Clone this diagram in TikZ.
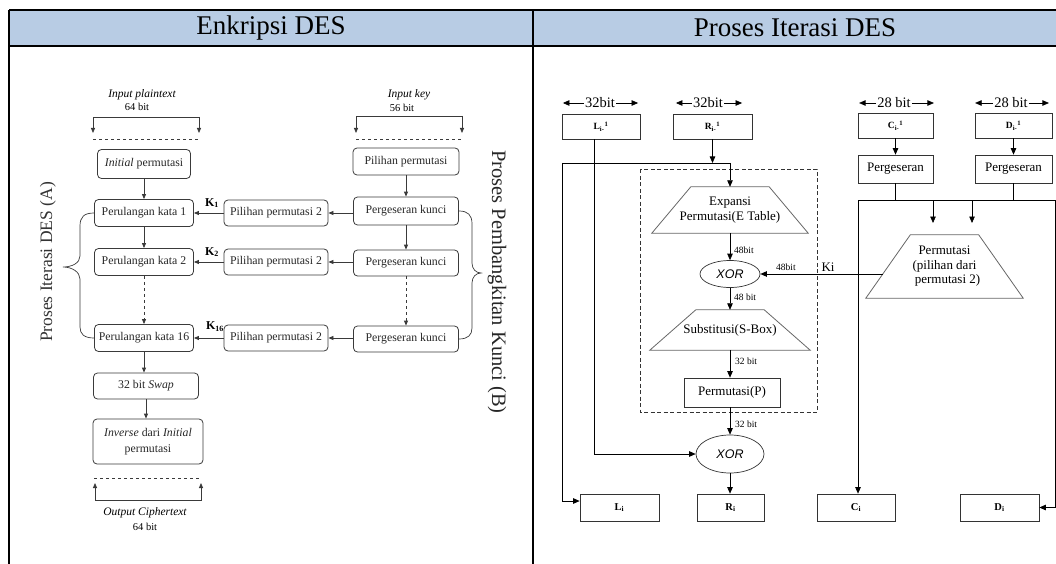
\documentclass[tikz,border=0pt]{standalone}
\usepackage{fontspec}
\setmainfont{Liberation Serif}
\newfontfamily\arialf{Liberation Sans}
\usetikzlibrary{arrows.meta,calc,shapes.geometric}
\definecolor{hdr}{HTML}{B8CCE4}
\definecolor{lgray}{HTML}{3A3A3A}
\begin{document}
\begin{tikzpicture}[x=1pt,y=-1pt,
  lbox/.style={draw=lgray, line width=0.8pt, rounded corners=4pt, minimum height=27pt, inner sep=1pt, font=\fontsize{11.8}{13}\selectfont, text=black!85},
  rbox/.style={draw=black!80, line width=0.7pt, inner sep=1pt, minimum height=25pt},
  larr/.style={draw=lgray, line width=0.8pt, -{Triangle[length=5pt,width=4pt]}},
  lline/.style={draw=lgray, line width=0.8pt},
  rarr/.style={draw=black, line width=0.7pt, -{Triangle[length=6.5pt,width=5.5pt]}},
  rline/.style={draw=black, line width=0.7pt},
  trap/.style={draw=black!60, line width=0.8pt},
  rtxt/.style={font=\fontsize{13}{14.5}\selectfont},
  small/.style={font=\fontsize{9.5}{10}\selectfont, inner sep=1pt},
  wlab/.style={font=\fontsize{14.5}{15}\selectfont, inner sep=1pt},
  klab/.style={font=\bfseries\fontsize{12}{12}\selectfont, inner sep=0pt},
  xorn/.style={ellipse, draw=black!80, line width=0.7pt, inner sep=0pt, font=\arialf\itshape\fontsize{12.5}{12}\selectfont}
]
\useasboundingbox (0,0) rectangle (1056,564);
% table
\fill[hdr] (9,10) rectangle (1056,46);
\node[font=\fontsize{27}{28}\selectfont] (h1) at (271,28) {Enkripsi DES};
\node[font=\fontsize{27}{28}\selectfont] (h2) at (795,28) {Proses Iterasi DES};
\draw[line width=1.3pt] (9,10) -- (1056,10);
\draw[line width=1.3pt] (9,46) -- (1056,46);
\draw[line width=1.3pt] (9,10) -- (9,564);
\draw[line width=1.3pt] (533,10) -- (533,564);

% ================= LEFT PANEL =================
\node[font=\itshape\fontsize{11.5}{12}\selectfont] (ipt) at (142,95) {Input plaintext};
\node[font=\fontsize{10.5}{11}\selectfont] (ipb) at (137,107) {64 bit};
\coordinate (pb1) at (93,117); \coordinate (pb2) at (199,117);
\draw[larr] (pb2) -- (pb1) -- ++(0,16);
\draw[larr] (pb2) -- ++(0,16);
\draw[lline, dashed] (93,139) -- (200,139);

\node[font=\itshape\fontsize{11.5}{12}\selectfont] (ik) at (409,95) {Input key};
\node[font=\fontsize{10.5}{11}\selectfont] (ikb) at (402,108) {56 bit};
\coordinate (kb1) at (356,116); \coordinate (kb2) at (462,116);
\draw[larr] (kb2) -- (kb1) -- ++(0,17);
\draw[larr] (kb2) -- ++(0,17);
\draw[lline, dashed] (356,139) -- (462,139);

\node[lbox, minimum width=93pt, minimum height=29pt] (init) at (144,164) {{\itshape Initial} permutasi};
\node[lbox, minimum width=99pt] (per1) at (144,213) {Perulangan kata 1};
\node[lbox, minimum width=99pt] (per2) at (144,262) {Perulangan kata 2};
\node[lbox, minimum width=99pt] (per16) at (144,338) {Perulangan kata 16};
\node[lbox, minimum width=105pt, minimum height=26pt] (swap) at (146,386) {32 bit {\itshape Swap}};
\node[lbox, minimum width=110pt, minimum height=45pt, align=center, font=\fontsize{11.8}{16}\selectfont] (inv) at (148,441.5) {{\itshape Inverse} dari {\itshape Initial}\\permutasi};

\node[lbox, minimum width=104pt, minimum height=26pt] (pa) at (276,213) {Pilihan permutasi 2};
\node[lbox, minimum width=104pt, minimum height=26pt] (pb) at (276,262) {Pilihan permutasi 2};
\node[lbox, minimum width=104pt, minimum height=26pt] (pc) at (276,338) {Pilihan permutasi 2};

\node[lbox, minimum width=106pt] (pp) at (406,161.5) {Pilihan permutasi};
\node[lbox, minimum width=105pt, minimum height=28pt] (pk1) at (406,211) {Pergeseran kunci};
\node[lbox, minimum width=105pt, minimum height=26pt] (pk2) at (406,263) {Pergeseran kunci};
\node[lbox, minimum width=105pt, minimum height=26pt] (pk16) at (406,339) {Pergeseran kunci};

\draw[larr] (init) -- (per1);
\draw[larr] (per1) -- (per2);
\draw[larr, dashed] (per2) -- (per16);
\draw[larr] (per16) -- (per16 |- swap.north);
\draw[larr] (swap.south) -- (swap.south |- inv.north);
\draw[larr] (pp) -- (pk1);
\draw[larr] (pk1) -- (pk2);
\draw[larr, dashed] (pk2) -- (pk16);
\draw[larr] (pk1.west |- pa) -- (pa.east);
\draw[larr] (pk2.west |- pb) -- (pb.east);
\draw[larr] (pk16.west |- pc) -- (pc.east);
\draw[larr] (pa.west) -- (per1.east);
\draw[larr] (pb.west) -- (per2.east);
\draw[larr] (pc.west) -- (per16.east);
\node[klab] (k1) at (212,203) {K\textsubscript{1}};
\node[klab] (k2) at (212,252) {K\textsubscript{2}};
\node[klab] (k16) at (215,327) {K\textsubscript{16}};

\draw[lline, dashed] (94,478) -- (201,478);
\coordinate (ob1) at (95,500); \coordinate (ob2) at (201,500);
\draw[larr] (ob1) -- ++(0,-17);
\draw[larr] (ob1) -- (ob2) -- ++(0,-17);
\node[font=\itshape\fontsize{11.5}{12}\selectfont] (oc) at (145,513) {Output Ciphertext};
\node[font=\fontsize{10.5}{11}\selectfont] (ocb) at (145,527) {64 bit};

% braces
\draw[lline, line width=0.7pt] (per1.west) .. controls (84,213) and (80,217) .. (80,226) -- (80,256)
  .. controls (80,263) and (72,267) .. (63,267) .. controls (72,267) and (80,272) .. (80,279) -- (80,327)
  .. controls (80,334) and (84,338) .. (per16.west);
\draw[lline, line width=0.7pt] (pk1.east) .. controls (468,211) and (472,215) .. (472,224) -- (472,263)
  .. controls (472,269) and (476,273) .. (481,273) .. controls (476,273) and (472,277) .. (472,283) -- (472,328)
  .. controls (472,335) and (468,339) .. (pk16.east);
\node[rotate=90, font=\fontsize{17.5}{18}\selectfont, text=black!80] (bra) at (48,262) {Proses Iterasi DES (A)};
\node[rotate=-90, font=\fontsize{20.5}{21}\selectfont, text=black!85] (brb) at (497,282) {Proses Pembangkitan Kunci (B)};

% ================= RIGHT PANEL =================
\node[wlab] (w1) at (600,103) {32bit};
\draw[rarr] (w1.west) -- ++(-21,0);
\draw[rarr] (w1.east) -- ++(22,0);
\node[wlab] (w2) at (708,103) {32bit};
\draw[rarr] (w2.west) -- ++(-16,0);
\draw[rarr] (w2.east) -- ++(18,0);
\node[wlab] (w3) at (894,103) {28 bit};
\draw[rarr] (w3.west) -- ++(-17,0);
\draw[rarr] (w3.east) -- ++(22,0);
\node[wlab] (w4) at (1011,103) {28 bit};
\draw[rarr] (w4.west) -- ++(-18,0);
\draw[rarr] (w4.east) -- ++(20,0);

\node[rbox, minimum width=78pt, font=\bfseries\fontsize{9.5}{10}\selectfont] (Lm1) at (601,126.5) {L\textsubscript{i-}\textsuperscript{1}};
\node[rbox, minimum width=79pt, font=\bfseries\fontsize{9.5}{10}\selectfont] (Rm1) at (712.5,126.5) {R\textsubscript{i-}\textsuperscript{1}};
\node[rbox, minimum width=75pt, font=\bfseries\fontsize{9.5}{10}\selectfont] (Cm1) at (895.5,125.5) {C\textsubscript{i-}\textsuperscript{1}};
\node[rbox, minimum width=77pt, font=\bfseries\fontsize{9.5}{10}\selectfont] (Dm1) at (1013.5,125.5) {D\textsubscript{i-}\textsuperscript{1}};
\node[rbox, rtxt, minimum width=75pt, minimum height=28pt] (PgC) at (895.5,169) {Pergeseran};
\node[rbox, rtxt, minimum width=77pt, minimum height=28pt] (PgD) at (1013.5,169) {Pergeseran};
\draw[rarr] (Cm1) -- (PgC);
\draw[rarr] (Dm1) -- (PgD);

% dashed f-box
\draw[dashed, dash pattern=on 4pt off 2.5pt, line width=0.8pt, black!80] (640,169) rectangle (817,412);

% Expansi trapezoid
\node[rtxt, minimum width=156pt, minimum height=46pt, inner sep=0pt, align=center] (exp) at (730,210) {Expansi\\Permutasi(E Table)};
\draw[trap] (exp.south west) -- (exp.south east) -- ([xshift=-39pt]exp.north east) -- ([xshift=39pt]exp.north west) -- cycle;
\node[xorn, minimum width=60pt, minimum height=27pt] (xor1) at (730,274) {XOR};
\node[rtxt, minimum width=160pt, minimum height=40pt, inner sep=0pt] (sub) at (730,330) {Substitusi(S-Box)};
\draw[trap] (sub.south west) -- (sub.south east) -- ([xshift=-46pt]sub.north east) -- ([xshift=46pt]sub.north west) -- cycle;
\node[rbox, rtxt, minimum width=96pt, minimum height=29pt] (pP) at (732,392.5) {Permutasi(P)};
\node[xorn, minimum width=68pt, minimum height=38pt] (xor2) at (730,454) {XOR};

\node[rbox, minimum width=79pt, minimum height=27pt, font=\bfseries\fontsize{10.5}{11}\selectfont] (Li) at (619.5,507.5) {L\textsubscript{i}};
\node[rbox, minimum width=67pt, minimum height=27pt, font=\bfseries\fontsize{10.5}{11}\selectfont] (Ri) at (730.5,507.5) {R\textsubscript{i}};
\node[rbox, minimum width=78pt, minimum height=27pt, font=\bfseries\fontsize{10.5}{11}\selectfont] (Ci) at (856,507.5) {C\textsubscript{i}};
\node[rbox, minimum width=79pt, minimum height=27pt, font=\bfseries\fontsize{10.5}{11}\selectfont] (Di) at (999.5,507.5) {D\textsubscript{i}};

\draw[rarr] (exp.south) -- (xor1.north);
\node[small, anchor=west] (l48a) at (733,250) {48bit};
\draw[rarr] (xor1.south) -- (sub.north);
\node[small, anchor=west] (l48b) at (733,297) {48 bit};
\draw[rarr] (sub.south) -- (sub.south |- pP.north);
\node[small, anchor=west] (l32a) at (734,361) {32 bit};
\draw[rarr] (pP.south -| xor2) -- (xor2.north);
\node[small, anchor=west] (l32b) at (734,424) {32 bit};
\draw[rarr] (xor2.south) -- (xor2.south |- Ri.north);

% R and L wiring
\coordinate (jl) at (562,163);
\coordinate (jr) at (730,163);
\draw[rarr] (Rm1.south) -- (Rm1.south |- jl);
\draw[rline] (jl) -- (jr);
\draw[rarr] (jr) -- (exp.north);
\draw[rarr] (jl) |- ([yshift=6.5pt]Li.west);
\coordinate (lb) at (594,454);
\draw[rarr] (Lm1.south -| lb) -- (lb) -- (xor2.west);

% Permutasi pilihan 2 trapezoid
\node[rtxt, minimum width=157pt, minimum height=63pt, inner sep=0pt, align=center] (pc2) at (944.5,266.5) {Permutasi\\(pilihan dari\\\hspace*{6pt}permutasi 2)};
\draw[trap] (pc2.south west) -- (pc2.south east) -- ([xshift=-44.5pt]pc2.north east) -- ([xshift=44.5pt]pc2.north west) -- cycle;
\coordinate (kis) at (883,274);
\draw[rarr] (kis) -- (xor1.east);
\node[small, anchor=south] (l48c) at (786,272) {48bit};
\node[font=\fontsize{13}{13}\selectfont, anchor=south, inner sep=1pt] (ki) at (828,273) {Ki};

% C/D wiring
\coordinate (bl) at (858,200);
\coordinate (br) at (1055,200);
\draw[rline] (PgC.south) -- (PgC.south |- bl);
\draw[rline] (PgD.south) -- (PgD.south |- bl);
\draw[rline] (bl) -- (br);
\draw[rarr] (bl) -- (bl |- Ci.north);
\draw[rarr] (br) |- (Di.east);
\coordinate (a1) at (933,200); \coordinate (a1e) at (933,223);
\coordinate (a2) at (972,200); \coordinate (a2e) at (972,223);
\draw[rarr] (a1) -- (a1e);
\draw[rarr] (a2) -- (a2e);
\end{tikzpicture}
\end{document}
